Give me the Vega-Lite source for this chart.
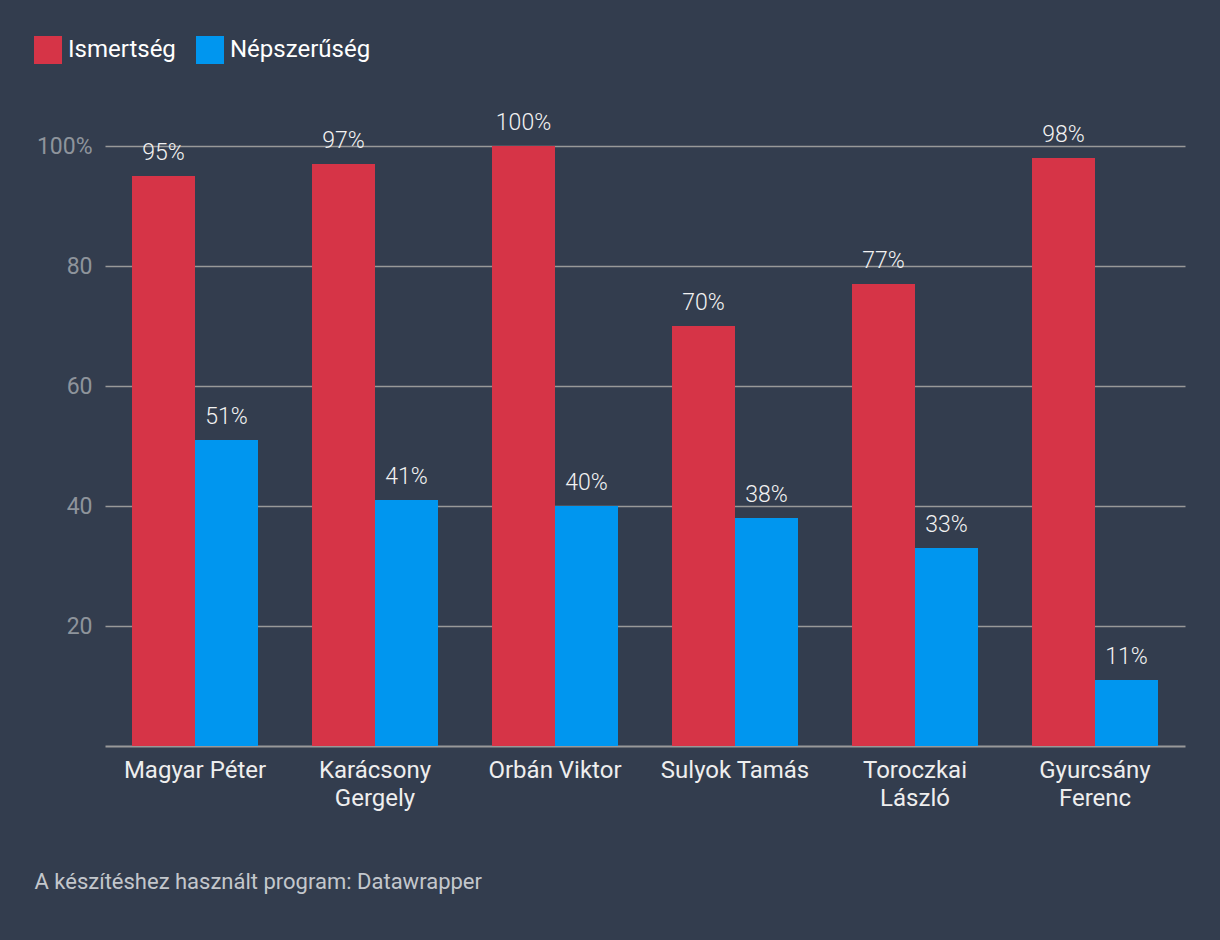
{
  "$schema": "https://vega.github.io/schema/vega-lite/v6.json",
  "width": 1080,
  "height": 600,
  "autosize": {"type": "none"},
  "padding": {"left": 105, "top": 146, "right": 35, "bottom": 194},
  "background": "#333d4e",
  "config": {
    "font": "Roboto",
    "view": {"stroke": null},
    "axis": {"labelFont": "Roboto", "titleFont": "Roboto"},
    "legend": {"labelFont": "Roboto"}
  },
  "data": {
    "values": [
      {"nev": "Magyar Péter", "mutato": "Ismertség", "ertek": 95},
      {"nev": "Magyar Péter", "mutato": "Népszerűség", "ertek": 51},
      {"nev": "Karácsony Gergely", "mutato": "Ismertség", "ertek": 97},
      {"nev": "Karácsony Gergely", "mutato": "Népszerűség", "ertek": 41},
      {"nev": "Orbán Viktor", "mutato": "Ismertség", "ertek": 100},
      {"nev": "Orbán Viktor", "mutato": "Népszerűség", "ertek": 40},
      {"nev": "Sulyok Tamás", "mutato": "Ismertség", "ertek": 70},
      {"nev": "Sulyok Tamás", "mutato": "Népszerűség", "ertek": 38},
      {"nev": "Toroczkai László", "mutato": "Ismertség", "ertek": 77},
      {"nev": "Toroczkai László", "mutato": "Népszerűség", "ertek": 33},
      {"nev": "Gyurcsány Ferenc", "mutato": "Ismertség", "ertek": 98},
      {"nev": "Gyurcsány Ferenc", "mutato": "Népszerűség", "ertek": 11}
    ]
  },
  "transform": [{"calculate": "datum.ertek + '%'", "as": "felirat"}],
  "encoding": {
    "x": {
      "field": "nev",
      "type": "nominal",
      "sort": null,
      "scale": {"paddingInner": 0.3, "paddingOuter": 0.15},
      "axis": {
        "title": "A készítéshez használt program: Datawrapper",
        "titleX": -71,
        "titleY": 142,
        "titleAlign": "left",
        "titleAnchor": "start",
        "titleBaseline": "alphabetic",
        "titleFontSize": 22,
        "titleFontWeight": "normal",
        "titleColor": "#c3c7cc",
        "labelAngle": 0,
        "labelFontSize": 24,
        "labelColor": "#eeeeee",
        "labelPadding": 12,
        "labelLineHeight": 28,
        "labelExpr": "length(datum.label) > 14 ? split(datum.label, ' ') : datum.label",
        "ticks": false,
        "domainColor": "#999999",
        "domainWidth": 2
      }
    },
    "xOffset": {"field": "mutato", "type": "nominal", "scale": {"paddingInner": 0, "paddingOuter": 0}},
    "y": {
      "field": "ertek",
      "type": "quantitative",
      "scale": {"domain": [0, 100], "nice": false},
      "axis": {
        "title": null,
        "values": [20, 40, 60, 80, 100],
        "labelExpr": "datum.value == 100 ? '100%' : datum.label",
        "labelFontSize": 23,
        "labelColor": "#8e949c",
        "labelPadding": 13,
        "ticks": false,
        "domain": false,
        "gridColor": "#999999",
        "gridWidth": 1.5
      }
    }
  },
  "layer": [
    {
      "mark": {"type": "bar"},
      "encoding": {
        "color": {
          "field": "mutato",
          "type": "nominal",
          "scale": {"domain": ["Ismertség", "Népszerűség"], "range": ["#d63447", "#0096ef"]},
          "legend": {
            "title": null,
            "orient": "none",
            "direction": "horizontal",
            "legendX": -71,
            "legendY": -110,
            "symbolType": "square",
            "symbolSize": 784,
            "symbolStrokeWidth": 0,
            "symbolOpacity": 1,
            "labelFontSize": 24,
            "labelColor": "#ffffff",
            "labelOffset": 6,
            "columnPadding": 20
          }
        }
      }
    },
    {
      "mark": {"type": "text", "baseline": "alphabetic", "dy": -16, "fontSize": 23, "fontWeight": 300, "color": "#f2f2f2"},
      "encoding": {
        "text": {"field": "felirat", "type": "nominal"}
      }
    }
  ]
}
